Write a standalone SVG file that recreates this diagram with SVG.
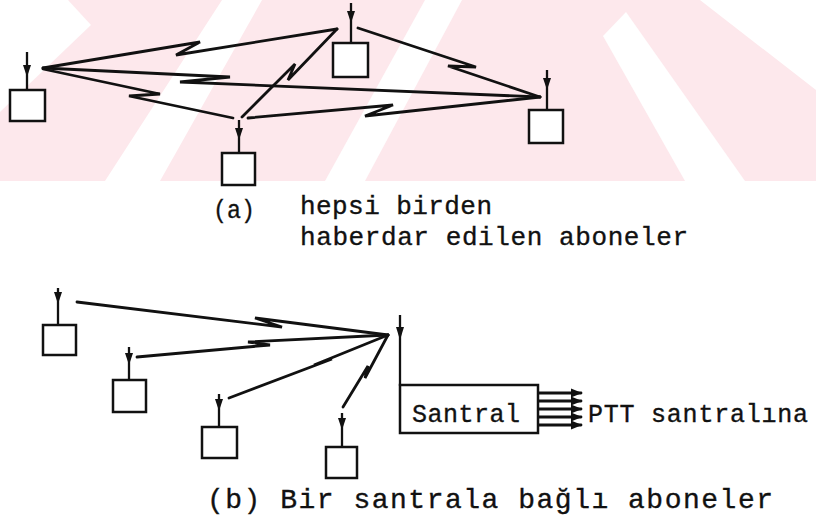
<svg xmlns="http://www.w3.org/2000/svg" width="816" height="521" viewBox="0 0 816 521">
  <style>
    .ln { fill: none; stroke: #111; stroke-width: 2.8; stroke-linejoin: miter; stroke-linecap: round; }
    .box { fill: #fff; stroke: #111; stroke-width: 2.5; }
    .ant { stroke: #111; stroke-width: 2.3; fill: none; }
    .tip { fill: #111; }
    .txt { font-family: "Liberation Mono", "DejaVu Sans Mono", monospace; fill: #111; stroke: #111; stroke-width: 0.35; }
    .wm { fill: #fde8ec; }
  </style>
  <defs>
    <marker id="ah" viewBox="0 0 10 10" refX="9" refY="5" markerWidth="4" markerHeight="4" orient="auto">
      <path d="M0,1 L10,5 L0,9 Z" fill="#111"/>
    </marker>
  </defs>

  <!-- background band -->
  <g id="backdrop">
    <rect class="wm" x="0" y="0" width="816" height="181"/>
    <polygon fill="#fff" points="0,0 68,0 91,25 0,112"/>
    <polygon fill="#fff" points="105,181 160,181 262,0 222,0"/>
    <polygon fill="#fff" points="325,181 365,181 462,0 425,0"/>
    <polygon fill="#fff" points="603,36 626,12 745,181 685,181"/>
    <polygon fill="#fff" points="700,0 816,0 816,90"/>
  </g>

  <!-- panel (a): all subscribers linked -->
  <g id="connectors-a">
    <polyline class="ln" points="43,68 200,42 176,55 337,29"/>
    <polyline class="ln" points="43,68 230,77 180,82 540,97"/>
    <polyline class="ln" points="43,69 160,94 129,96 233,118"/>
    <polyline class="ln" points="242,117 295,64 288,80 337,29"/>
    <polyline class="ln" points="358,28 476,67 448,66 540,97"/>
    <polyline class="ln" points="248,118 393,105 365,116 540,97"/>
  </g>

  <g id="a-node1">
    <line class="ant" x1="27" y1="52" x2="27" y2="90"/>
    <path class="tip" d="M23,65 L31,65 L27,77 Z"/>
    <rect class="box" x="10" y="90" width="35" height="31"/>
  </g>
  <g id="a-node2">
    <line class="ant" x1="351" y1="3" x2="351" y2="43"/>
    <path class="tip" d="M347,11 L355,11 L351,23 Z"/>
    <rect class="box" x="333" y="43" width="35" height="34"/>
  </g>
  <g id="a-node3">
    <line class="ant" x1="239" y1="120" x2="239" y2="153"/>
    <path class="tip" d="M235,128 L243,128 L239,140 Z"/>
    <rect class="box" x="222" y="153" width="33" height="32"/>
  </g>
  <g id="a-node4">
    <line class="ant" x1="547" y1="70" x2="547" y2="110"/>
    <path class="tip" d="M543,78 L551,78 L547,90 Z"/>
    <rect class="box" x="529" y="110" width="34" height="33"/>
  </g>

  <g id="a-caption">
    <text class="txt" x="213" y="218" font-size="26" textLength="42" lengthAdjust="spacingAndGlyphs">(a)</text>
    <text class="txt" x="300" y="214" font-size="26" textLength="192" lengthAdjust="spacing">hepsi birden</text>
    <text class="txt" x="300" y="245" font-size="26" textLength="388" lengthAdjust="spacing">haberdar edilen aboneler</text>
  </g>

  <!-- panel (b): subscribers on one exchange -->
  <g id="connectors-b">
    <polyline class="ln" points="77,302 282,327 255,318 388,335"/>
    <polyline class="ln" points="137,357 270,345 248,342 388,335"/>
    <polyline class="ln" points="229,398 332,359 314,365 388,335"/>
    <polyline class="ln" points="343,407 368,366 365,378 388,335"/>
    <g class="ln" marker-end="url(#ah)" stroke-width="2">
      <line x1="539" y1="393" x2="581" y2="393"/>
      <line x1="539" y1="401" x2="581" y2="401"/>
      <line x1="539" y1="409" x2="581" y2="409"/>
      <line x1="539" y1="417" x2="581" y2="417"/>
      <line x1="539" y1="425" x2="581" y2="425"/>
    </g>
  </g>

  <g id="b-node1">
    <line class="ant" x1="58" y1="288" x2="58" y2="325"/>
    <path class="tip" d="M54,292 L62,292 L58,304 Z"/>
    <rect class="box" x="43" y="325" width="33" height="30"/>
  </g>
  <g id="b-node2">
    <line class="ant" x1="129" y1="347" x2="129" y2="380"/>
    <path class="tip" d="M125,353 L133,353 L129,365 Z"/>
    <rect class="box" x="113" y="380" width="33" height="32"/>
  </g>
  <g id="b-node3">
    <line class="ant" x1="219" y1="394" x2="219" y2="427"/>
    <path class="tip" d="M215,399 L223,399 L219,411 Z"/>
    <rect class="box" x="202" y="427" width="35" height="31"/>
  </g>
  <g id="b-node4">
    <line class="ant" x1="342" y1="413" x2="342" y2="447"/>
    <path class="tip" d="M338,418 L346,418 L342,430 Z"/>
    <rect class="box" x="326" y="447" width="31" height="31"/>
  </g>
  <g id="santral">
    <line class="ant" x1="400" y1="315" x2="400" y2="386"/>
    <path class="tip" d="M396,327 L404,327 L400,340 Z"/>
    <rect class="box" x="400" y="385" width="138" height="48"/>
    <text class="txt" x="412" y="422" font-size="25" textLength="108" lengthAdjust="spacing">Santral</text>
  </g>
  <text class="txt" x="588" y="422" font-size="25" textLength="220" lengthAdjust="spacing">PTT santralına</text>

  <text class="txt" x="207" y="508" font-size="28" textLength="566" lengthAdjust="spacing">(b) Bir santrala bağlı aboneler</text>
</svg>
